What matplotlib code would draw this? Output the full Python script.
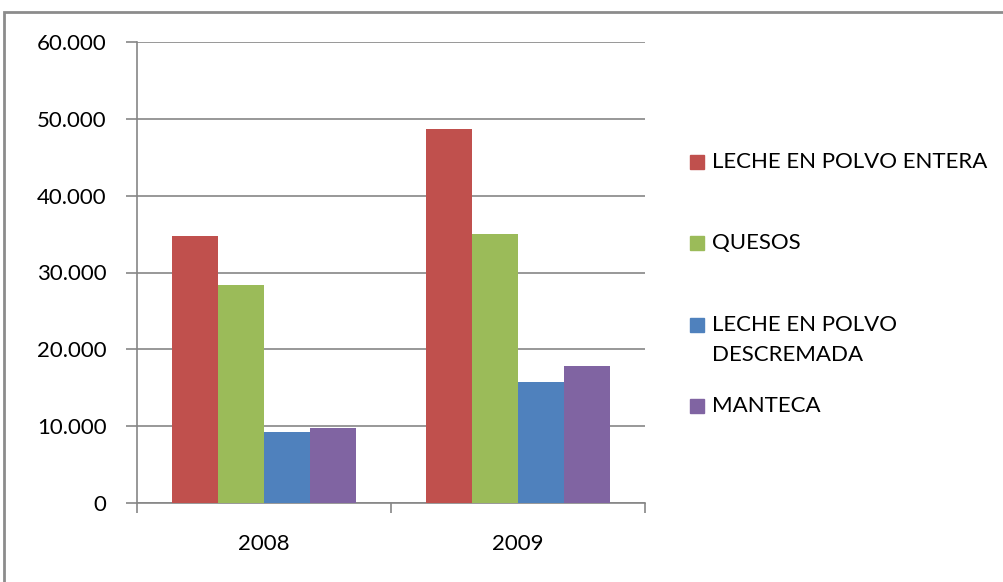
import matplotlib.pyplot as plt
from matplotlib.patches import Rectangle
from matplotlib.ticker import FuncFormatter, FixedLocator
import numpy as np

# datos
anios = ["2008", "2009"]
series = ["LECHE EN POLVO ENTERA", "QUESOS", "LECHE EN POLVO\nDESCREMADA", "MANTECA"]
leche_entera = [34700, 48700]
quesos = [28400, 35000]
leche_descremada = [9200, 15800]
manteca = [9700, 17800]
colores = ["#C0504D", "#9BBB59", "#4F81BD", "#8064A2"]

plt.rcParams["font.family"] = ["Lato", "DejaVu Sans"]

fig = plt.figure(figsize=(10.04, 5.82), dpi=100)
ax = fig.add_axes([137 / 1004, 79 / 582, 508 / 1004, 461 / 582])

# borde exterior del grafico
fig.patches.append(Rectangle((4 / 1004, -0.05), 1.05, (582 - 12) / 582 + 0.05,
                             transform=fig.transFigure, fill=False,
                             edgecolor="#8C8C8C", linewidth=2))

x = np.arange(len(anios))
ancho = 1 / 5.5
valores = [leche_entera, quesos, leche_descremada, manteca]
for i, vals in enumerate(valores):
    ax.bar(x + (i - 1.5) * ancho, vals, ancho, color=colores[i], zorder=3)

ax.set_xlim(-0.5, 1.5)
ax.set_ylim(0, 60000)
ax.set_yticks(range(0, 60001, 10000))
ax.yaxis.set_major_formatter(FuncFormatter(lambda v, p: f"{v:,.0f}".replace(",", ".")))
ax.yaxis.grid(True, color="#868686", linewidth=1.2, zorder=0)

ax.set_xticks(x)
ax.set_xticklabels(anios)
ax.xaxis.set_minor_locator(FixedLocator([-0.5, 0.5, 1.5]))
ax.tick_params(axis="x", which="major", length=0, pad=22, labelsize=16)
ax.tick_params(axis="x", which="minor", length=7, color="#868686", width=1.2)
ax.tick_params(axis="y", length=8, color="#868686", width=1.2, pad=14, labelsize=16)

for lado in ["top", "right"]:
    ax.spines[lado].set_visible(False)
for lado in ["left", "bottom"]:
    ax.spines[lado].set_color("#868686")
    ax.spines[lado].set_linewidth(1.2)

# leyenda manual
pos_y = [162, 243, 325, 406]
for i, nombre in enumerate(series):
    yf = 1 - pos_y[i] / 582
    fig.patches.append(Rectangle((690 / 1004, yf - 7 / 582), 14 / 1004, 14 / 582,
                                 transform=fig.transFigure, color=colores[i]))
    fig.text(712 / 1004, yf + 10 / 582, nombre, va="top", ha="left", fontsize=16,
             linespacing=1.65)

fig.savefig("out.png", dpi=100)
